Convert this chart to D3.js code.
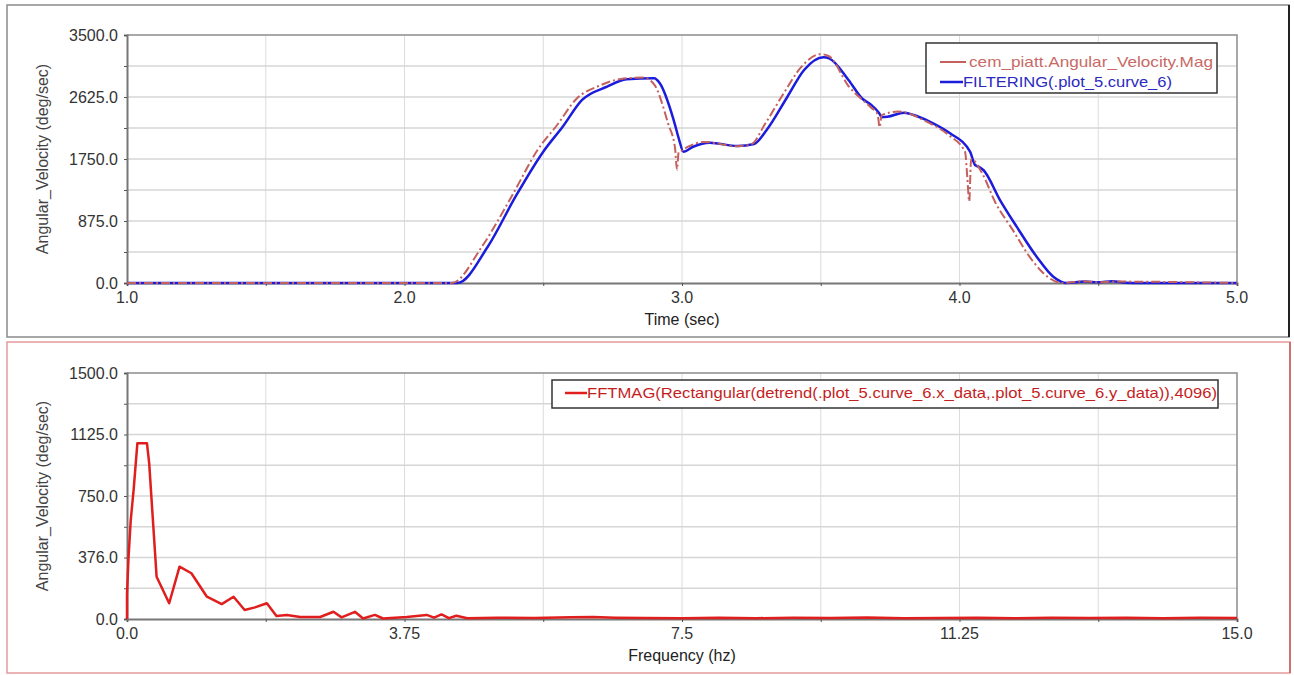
<!DOCTYPE html>
<html>
<head>
<meta charset="utf-8">
<script src="https://cdn.jsdelivr.net/npm/d3@7"></script>
<style>
	body { margin: 0; background: #fff; }
	svg { display: block; font-family: "Liberation Sans", Arial, sans-serif; }
</style>
</head>
<body>
<svg width="1294" height="675"></svg>
<script>
//Top plot: measured vs filtered angular velocity
var timeRed = [1.0, 2.17, 2.28, 2.39, 2.48, 2.55, 2.62, 2.70, 2.78, 2.86, 2.90, 2.95, 2.975, 2.982, 2.988, 2.995, 3.02, 3.08, 3.20, 3.25, 3.30, 3.37, 3.43, 3.50, 3.53, 3.60, 3.68, 3.705, 3.712, 3.72, 3.78, 3.88, 3.96, 4.02, 4.028, 4.035, 4.042, 4.08, 4.13, 4.19, 4.26, 4.32, 4.37, 4.45, 4.50, 4.55, 5.0];
var velRed = [0, 0, 520, 1250, 1880, 2230, 2600, 2780, 2880, 2900, 2800, 2250, 1900, 1600, 1850, 1860, 1920, 1990, 1930, 1960, 2250, 2700, 3050, 3230, 3200, 2780, 2480, 2380, 2200, 2370, 2420, 2280, 2090, 1850, 1500, 1150, 1750, 1560, 1130, 760, 330, 80, 0, 25, 10, 20, 0];

var timeBlue = [1.0, 2.19, 2.30, 2.40, 2.50, 2.57, 2.64, 2.73, 2.80, 2.90, 2.92, 2.97, 2.99, 3.005, 3.04, 3.10, 3.20, 3.26, 3.305, 3.38, 3.44, 3.51, 3.53, 3.60, 3.65, 3.68, 3.71, 3.72, 3.74, 3.80, 3.85, 3.905, 3.966, 4.038, 4.056, 4.07, 4.086, 4.146, 4.206, 4.278, 4.338, 4.386, 4.45, 4.50, 4.55, 4.60, 4.65, 5.0];
var velBlue = [0, 0, 512, 1218, 1853, 2206, 2583, 2770, 2875, 2889, 2818, 2300, 2018, 1853, 1923, 1980, 1933, 1962, 2159, 2629, 3006, 3185, 3171, 2865, 2600, 2520, 2400, 2340, 2345, 2404, 2350, 2254, 2113, 1853, 1665, 1640, 1595, 1171, 795, 371, 89, 0, 20, 10, 25, 5, 0, 0];

//Bottom plot: FFT magnitude
var freq = [0, 0, 0.02, 0.05, 0.09, 0.14, 0.27, 0.30, 0.40, 0.57, 0.71, 0.87, 1.08, 1.28, 1.44, 1.59, 1.73, 1.89, 2.02, 2.16, 2.34, 2.61, 2.79, 2.90, 3.08, 3.19, 3.35, 3.46, 3.78, 4.05, 4.15, 4.25, 4.35, 4.45, 4.6, 5.0, 5.5, 6.0, 6.3, 6.6, 7.0, 7.5, 8.0, 8.5, 9.0, 9.5, 10.0, 10.5, 11.0, 11.5, 12.0, 12.5, 13.0, 13.5, 14.0, 14.5, 15.0];
var mag = [0, 150, 370, 600, 790, 1071, 1071, 949, 258, 96, 319, 279, 136, 91, 136, 55, 71, 96, 18, 25, 12, 12, 44, 10, 44, 3, 25, 3, 12, 25, 8, 28, 5, 20, 5, 8, 6, 10, 12, 8, 6, 4, 8, 5, 7, 6, 9, 5, 6, 8, 5, 7, 6, 8, 5, 7, 6];

//Tick labels
var topYTicks = [0, 875, 1750, 2625, 3500];
var topYLabels = ["0.0", "875.0", "1750.0", "2625.0", "3500.0"];
var topXTicks = [1, 2, 3, 4, 5];
var topXLabels = ["1.0", "2.0", "3.0", "4.0", "5.0"];
var botYTicks = [0, 375, 750, 1125, 1500];
var botYLabels = ["0.0", "376.0", "750.0", "1125.0", "1500.0"];
var botXTicks = [0, 3.75, 7.5, 11.25, 15];
var botXLabels = ["0.0", "3.75", "7.5", "11.25", "15.0"];

var svg = d3.select("svg");

//Panel frames
svg.append("rect").attr("x", 7).attr("y", 5).attr("width", 1282).attr("height", 332)
	.style("fill", "none").style("stroke", "#8a8a8a").style("stroke-width", "1.5px");
svg.append("line").attr("x1", 1289).attr("x2", 1289).attr("y1", 5).attr("y2", 337)
	.style("stroke", "#222").style("stroke-width", "2px");
svg.append("rect").attr("x", 7).attr("y", 342).attr("width", 1283).attr("height", 331)
	.style("fill", "none").style("stroke", "#e59a9a").style("stroke-width", "1.5px");
svg.append("line").attr("x1", 1290).attr("x2", 1290).attr("y1", 342).attr("y2", 673)
	.style("stroke", "#c85a5a").style("stroke-width", "1.5px");

//Draws one plot (grid, axes, labels) and returns its scales
function makePlot(cfg) {
	var x = d3.scaleLinear().domain(cfg.xDomain).range([127, 1237]);
	var y = d3.scaleLinear().domain(cfg.yDomain).range([cfg.bottom, cfg.top]);
	var g = svg.append("g");

	var xMinor = d3.range(0, 9).map(function (i) { return cfg.xDomain[0] + i * (cfg.xDomain[1] - cfg.xDomain[0]) / 8; });
	var yMinor = d3.range(0, 9).map(function (i) { return cfg.yDomain[0] + i * (cfg.yDomain[1] - cfg.yDomain[0]) / 8; });

	//grid lines
	g.selectAll("line.vg").data(xMinor.slice(1, 8)).enter().append("line")
		.attr("x1", function (d) { return x(d); }).attr("x2", function (d) { return x(d); })
		.attr("y1", cfg.top).attr("y2", cfg.bottom)
		.style("stroke", "#dcdcdc").style("stroke-width", "1px");
	g.selectAll("line.hg").data(yMinor.slice(1, 8)).enter().append("line")
		.attr("y1", function (d) { return y(d); }).attr("y2", function (d) { return y(d); })
		.attr("x1", 127).attr("x2", 1237)
		.style("stroke", "#d6d6d6").style("stroke-width", "1.5px");

	//plot box top and right
	g.append("path").attr("d", "M127," + cfg.top + "H1237V" + cfg.bottom)
		.style("fill", "none").style("stroke", "#8c8c8c").style("stroke-width", "1.5px");

	//axes
	var xAxis = d3.axisBottom(x).tickValues(xMinor).tickSize(3).tickFormat("");
	var yAxis = d3.axisLeft(y).tickValues(yMinor).tickSize(3).tickFormat("");
	g.append("g").attr("transform", "translate(0," + cfg.bottom + ")").call(xAxis);
	g.append("g").attr("transform", "translate(127,0)").call(yAxis);
	g.selectAll(".domain").style("stroke", "#777").style("stroke-width", "2px");
	g.selectAll(".tick line").style("stroke", "#555");

	//tick labels
	g.selectAll("text.yl").data(cfg.yTicks).enter().append("text")
		.attr("x", 118).attr("y", function (d) { return y(d); })
		.attr("dy", "0.36em").style("text-anchor", "end")
		.style("font-size", "16px").style("fill", "#333")
		.text(function (d, i) { return cfg.yLabels[i]; });
	g.selectAll("text.xl").data(cfg.xTicks).enter().append("text")
		.attr("x", function (d) { return x(d); }).attr("y", cfg.bottom + 20)
		.style("text-anchor", "middle")
		.style("font-size", "16px").style("fill", "#333")
		.text(function (d, i) { return cfg.xLabels[i]; });

	//axis titles
	g.append("text").attr("x", 682).attr("y", cfg.bottom + 42)
		.style("text-anchor", "middle").style("font-size", "16px").style("fill", "#222")
		.text(cfg.xTitle);
	g.append("text").attr("transform", "translate(48," + ((cfg.top + cfg.bottom) / 2) + ") rotate(-90)")
		.style("text-anchor", "middle").style("font-size", "16px").style("fill", "#444")
		.text("Angular_Velocity (deg/sec)");

	return { x: x, y: y, g: g };
}

var topPlot = makePlot({
	xDomain: [1, 5], yDomain: [0, 3500], top: 35, bottom: 283,
	yTicks: topYTicks, yLabels: topYLabels, xTicks: topXTicks, xLabels: topXLabels,
	xTitle: "Time (sec)"
});

var botPlot = makePlot({
	xDomain: [0, 15], yDomain: [0, 1500], top: 373, bottom: 619,
	yTicks: botYTicks, yLabels: botYLabels, xTicks: botXTicks, xLabels: botXLabels,
	xTitle: "Frequency (hz)"
});

//Curves (smoothed between the read points)
var blueLine = d3.line()
	.x(function (d, i) { return topPlot.x(timeBlue[i]); })
	.y(function (d) { return topPlot.y(d); })
	.curve(d3.curveMonotoneX);
var redLine = d3.line()
	.x(function (d, i) { return topPlot.x(timeRed[i]); })
	.y(function (d) { return topPlot.y(d); })
	.curve(d3.curveMonotoneX);

topPlot.g.append("path").datum(velBlue).attr("d", blueLine)
	.style("fill", "none").style("stroke", "#1c1cdc").style("stroke-width", "2.5px")
	.style("stroke-linejoin", "round");
topPlot.g.append("path").datum(velRed).attr("d", redLine)
	.style("fill", "none").style("stroke", "#c4615c").style("stroke-width", "2px")
	.style("stroke-dasharray", "9,3,2,3");

var fftLine = d3.line()
	.x(function (d, i) { return botPlot.x(freq[i]); })
	.y(function (d) { return botPlot.y(d); });
botPlot.g.append("path").datum(mag).attr("d", fftLine)
	.style("fill", "none").style("stroke", "#e01e1e").style("stroke-width", "2.5px")
	.style("stroke-linejoin", "round");

//Legends
var leg1 = svg.append("g");
leg1.append("rect").attr("x", 926).attr("y", 43).attr("width", 291).attr("height", 50)
	.style("fill", "#fff").style("stroke", "#333").style("stroke-width", "1.5px");
leg1.append("line").attr("x1", 940).attr("x2", 966).attr("y1", 62).attr("y2", 62)
	.style("stroke", "#c4615c").style("stroke-width", "2px");
leg1.append("text").attr("x", 969).attr("y", 62).attr("dy", "0.36em")
	.attr("textLength", 244).attr("lengthAdjust", "spacingAndGlyphs")
	.style("font-size", "15px").style("fill", "#c86a66")
	.text("cem_piatt.Angular_Velocity.Mag");
leg1.append("line").attr("x1", 940).attr("x2", 963).attr("y1", 82).attr("y2", 82)
	.style("stroke", "#1c1cdc").style("stroke-width", "2.5px");
leg1.append("text").attr("x", 963).attr("y", 82).attr("dy", "0.36em")
	.attr("textLength", 209).attr("lengthAdjust", "spacingAndGlyphs")
	.style("font-size", "15px").style("fill", "#2a2ac0")
	.text("FILTERING(.plot_5.curve_6)");

var leg2 = svg.append("g");
leg2.append("rect").attr("x", 552).attr("y", 380).attr("width", 666).attr("height", 28)
	.style("fill", "#fff").style("stroke", "#333").style("stroke-width", "1.5px");
leg2.append("line").attr("x1", 565).attr("x2", 587).attr("y1", 393).attr("y2", 393)
	.style("stroke", "#e01e1e").style("stroke-width", "2.5px");
leg2.append("text").attr("x", 587).attr("y", 393).attr("dy", "0.36em")
	.attr("textLength", 630).attr("lengthAdjust", "spacingAndGlyphs")
	.style("font-size", "15px").style("fill", "#c41e1e")
	.text("FFTMAG(Rectangular(detrend(.plot_5.curve_6.x_data,.plot_5.curve_6.y_data)),4096)");
</script>
</body>
</html>
